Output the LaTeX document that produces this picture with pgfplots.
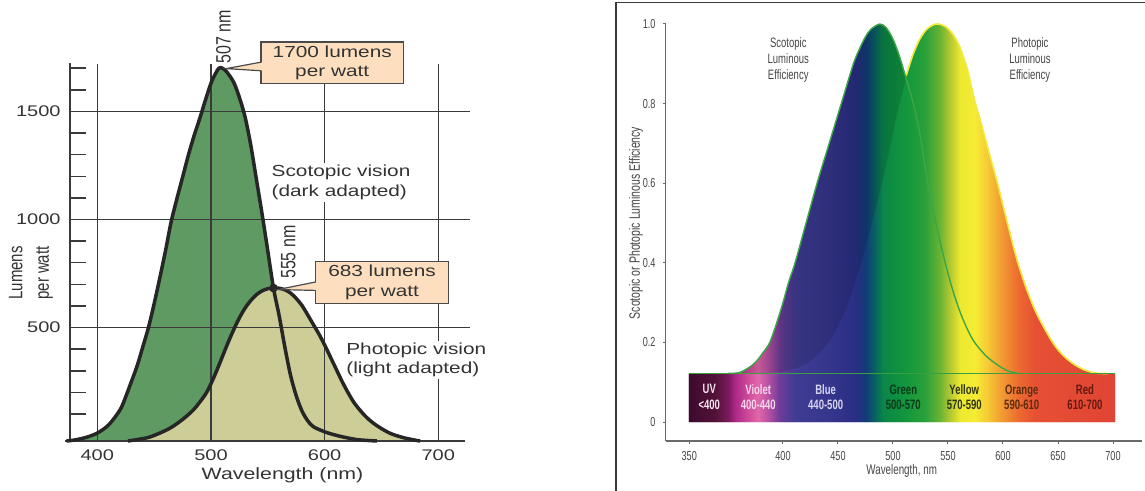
\documentclass[border=0pt]{standalone}
\usepackage{pgfplots}
\pgfplotsset{compat=1.18}
\usepackage{pgfplotstable}
\usepackage{fontspec}
\setmainfont{Liberation Sans}
\newfontfamily\widesans[FakeStretch=1.3]{Liberation Sans}
\newfontfamily\condsans[FakeStretch=0.7]{Liberation Sans}

% left panel colours
\definecolor{scofill}{HTML}{5F9A62}
\definecolor{phofill}{HTML}{CDCD98}
\definecolor{outline}{HTML}{262626}
\definecolor{gridc}{HTML}{3A3A3A}
\definecolor{boxfill}{HTML}{FDDFBF}
\definecolor{boxedge}{HTML}{4A4A4A}
\definecolor{txt}{HTML}{333333}
% right panel colours
\definecolor{axgray}{HTML}{6A6A6A}
\definecolor{labgray}{HTML}{454545}
\definecolor{framec}{HTML}{3A3A3A}
\definecolor{scoline}{HTML}{3DA646}
\definecolor{pholine}{HTML}{F2EA3C}
\definecolor{barline}{HTML}{3A9E42}
% visible spectrum
\definecolor{sp0}{HTML}{3E0A2E}
\definecolor{sp1}{HTML}{521238}
\definecolor{sp2}{HTML}{7A1A5A}
\definecolor{sp3}{HTML}{B02A8A}
\definecolor{sp4}{HTML}{D4509C}
\definecolor{sp5}{HTML}{E068AA}
\definecolor{sp6}{HTML}{B850A4}
\definecolor{sp7}{HTML}{6E3C98}
\definecolor{sp8}{HTML}{403C94}
\definecolor{sp9}{HTML}{35358C}
\definecolor{sp10}{HTML}{2A2E84}
\definecolor{sp11}{HTML}{113C78}
\definecolor{sp12}{HTML}{0A5A68}
\definecolor{sp13}{HTML}{0A8648}
\definecolor{sp14}{HTML}{12963C}
\definecolor{sp15}{HTML}{2AA03A}
\definecolor{sp16}{HTML}{6AB434}
\definecolor{sp17}{HTML}{B4C830}
\definecolor{sp18}{HTML}{ECE830}
\definecolor{sp19}{HTML}{F6EC34}
\definecolor{sp20}{HTML}{F6C834}
\definecolor{sp21}{HTML}{F2A032}
\definecolor{sp22}{HTML}{EC6C30}
\definecolor{sp23}{HTML}{E65034}
\definecolor{sp24}{HTML}{E04434}

% 314.5 nm .. 702 nm mapped onto 25bp .. 75bp
\pgfdeclarehorizontalshading{spectrum}{100bp}{%
 color(0bp)=(sp0); color(25bp)=(sp0); color(28.05bp)=(sp1); color(29.57bp)=(sp2);
 color(30.51bp)=(sp3); color(32.16bp)=(sp4); color(33.09bp)=(sp5); color(34.27bp)=(sp6);
 color(35.67bp)=(sp7); color(37.43bp)=(sp8); color(41.54bp)=(sp9); color(44.47bp)=(sp10);
 color(45.76bp)=(sp11); color(46.58bp)=(sp12); color(47.76bp)=(sp13); color(50.34bp)=(sp14);
 color(52.68bp)=(sp15); color(54.44bp)=(sp16); color(55.62bp)=(sp17); color(56.79bp)=(sp18);
 color(58.55bp)=(sp19); color(60.07bp)=(sp20); color(61.48bp)=(sp21); color(63.59bp)=(sp22);
 color(65.59bp)=(sp23); color(75bp)=(sp24); color(100bp)=(sp24)}

% lumens per watt, scotopic (dark adapted)
\pgfplotstableread{
lambda lm
373 -24.5
380 -20
390 -8
400 12
410 50
420 119
425 180
430 250
435 322
440 410
445 500
450 610
455 730
460 855
465 990
470 1095
475 1195
480 1295
485 1385
490 1465
495 1550
500 1630
504 1675
507 1700
510 1700
514 1682
520 1635
525 1565
530 1475
535 1345
540 1185
545 1025
550 855
555 683
560 555
565 410
570 280
575 185
580 115
585 70
590 42
600 18
610 2
620 -10
630 -19
646 -24.5
}\scotL

% lumens per watt, photopic (light adapted)
\pgfplotstableread{
lambda lm
427 -24.5
435 -18
445 -8
455 12
465 38
475 75
485 122
495 190
500 240
505 300
510 365
515 430
520 490
525 545
530 590
535 625
540 652
545 670
550 680
555 683
560 682
565 675
570 660
575 635
580 603
585 560
590 515
595 470
600 420
605 365
610 310
615 255
620 205
625 160
630 125
635 95
640 70
645 50
650 33
655 18
660 6
670 -10
680 -21
684 -24.5
}\photL

% relative luminous efficiency drawn above the spectrum bar
\pgfplotstableread{
lambda eff
314.5 0.122
350 0.122
360 0.124
368 0.135
375 0.150
382 0.175
388 0.200
395 0.255
400 0.300
405 0.350
411 0.400
420 0.490
431 0.600
442 0.700
453 0.800
464 0.900
470 0.940
475 0.968
480 0.987
488 1.000
494 0.990
500 0.962
506 0.918
512 0.862
519 0.795
525 0.715
531 0.612
539 0.500
547 0.405
555 0.325
563 0.262
573 0.205
585 0.165
598 0.138
606 0.127
614 0.122
702 0.122
}\scotR

\pgfplotstableread{
lambda eff
314.5 0.122
380 0.122
388 0.123
400 0.127
415 0.138
428 0.160
440 0.195
450 0.240
460 0.305
471 0.400
480 0.490
490 0.600
498 0.700
505 0.790
512 0.870
518 0.922
524 0.960
530 0.985
536 0.997
541 1.000
548 0.993
555 0.972
561 0.940
568 0.882
574 0.810
580 0.752
587 0.680
595 0.600
604 0.500
613 0.405
622 0.330
631 0.270
644 0.205
653 0.172
663 0.148
673 0.132
684 0.123
695 0.122
702 0.122
}\photR

% region seen only by the rods: scotopic rise, back along the photopic rise
\pgfplotstableread{
lambda eff
350 0.122
360 0.124
368 0.135
375 0.150
382 0.175
388 0.200
395 0.255
400 0.300
405 0.350
411 0.400
420 0.490
431 0.600
442 0.700
453 0.800
464 0.900
470 0.940
475 0.968
480 0.987
488 1.000
494 0.990
500 0.962
506 0.918
511.5 0.866
505 0.790
498 0.700
490 0.600
480 0.490
471 0.400
460 0.305
450 0.240
440 0.195
428 0.160
415 0.138
400 0.127
388 0.123
380 0.122
350 0.122
}\rodOnly

\begin{document}
\begin{tikzpicture}
\path[use as bounding box] (0,0) rectangle (572.5pt,245.5pt);

% ---------------- lumens per watt ----------------
\begin{axis}[
  at={(32.5pt,25pt)}, anchor=south west, scale only axis,
  width=202.5pt, height=189.65pt,
  xmin=371.6, xmax=727.9, ymin=-24.5, ymax=1730,
  axis line style={draw=none}, major tick length=0pt, tick style={draw=none},
  xtick={400,500,600,700}, xticklabels={400,500,600,700},
  ytick={500,1000,1500}, yticklabels={500,1000,1500},
  xticklabel style={font=\widesans\fontsize{7.7}{9}\selectfont, text=txt, anchor=north, inner sep=0pt, yshift=-4.25pt},
  yticklabel style={font=\widesans\fontsize{7.7}{9}\selectfont, text=txt, anchor=east, inner sep=0pt, xshift=-2pt},
  clip=false,
]
\addplot[draw=none, fill=scofill, smooth] table[x=lambda, y=lm] {\scotL} -- cycle;
\addplot[draw=none, fill=phofill, smooth] table[x=lambda, y=lm] {\photL} -- cycle;

% grid
\draw[gridc, line width=0.75pt]
  (376,500) -- (727.9,500) (376,1000) -- (727.9,1000) (376,1500) -- (727.9,1500)
  (400,-24.5) -- (400,1718) (500,-24.5) -- (500,1718)
  (600,-24.5) -- (600,1718) (700,-24.5) -- (700,1718);
% minor ticks on the value axis
\draw[gridc, line width=0.75pt]
  (376,100) -- (390,100) (376,200) -- (390,200) (376,300) -- (390,300)
  (376,400) -- (390,400) (376,600) -- (390,600) (376,700) -- (390,700)
  (376,800) -- (390,800) (376,900) -- (390,900) (376,1100) -- (390,1100)
  (376,1200) -- (390,1200) (376,1300) -- (390,1300) (376,1400) -- (390,1400)
  (376,1600) -- (390,1600) (376,1700) -- (390,1700);
% axis lines
\draw[gridc, line width=1pt] (371.6,-24.5) -- (723.5,-24.5);
\draw[gridc, line width=1pt] (376,-24.5) -- (376,1725);

\addplot[outline, line width=1.75pt, smooth] table[x=lambda, y=lm] {\scotL};
\addplot[outline, line width=1.75pt, smooth] table[x=lambda, y=lm] {\photL};
\fill[outline] (555,683) circle (2.2pt);

% labels on the curves
\node[font=\widesans\fontsize{8}{9.7}\selectfont, text=txt, fill=white, inner sep=1pt, align=left, anchor=west]
  at (551.3,1171) {Scotopic vision\\(dark adapted)};
\node[font=\widesans\fontsize{8}{9.7}\selectfont, text=txt, fill=white, inner sep=1pt, align=left, anchor=west]
  at (617,351) {Photopic vision\\(light adapted)};
\node[font=\fontsize{8}{9}\selectfont, text=txt, rotate=90, yscale=1.3] at (510.9,1845) {507 nm};
\node[font=\fontsize{8}{9}\selectfont, text=txt, rotate=90, yscale=1.3] at (568,849) {555 nm};

% callouts
\node[draw=boxedge, fill=boxfill, line width=0.6pt, minimum width=71.2pt, minimum height=20.85pt,
  inner sep=0pt, align=center, font=\widesans\fontsize{8}{9.7}\selectfont, text=txt]
  at (606.7,1725) {1700 lumens\\per watt};
\fill[boxfill] (546,1728) -- (513.5,1698) -- (546,1688) -- cycle;
\draw[boxedge, line width=0.6pt] (544.2,1728) -- (513.5,1698) -- (544.2,1688);
\node[draw=boxedge, fill=boxfill, line width=0.6pt, minimum width=66.3pt, minimum height=21.15pt,
  inner sep=0pt, align=center, font=\widesans\fontsize{8}{9.7}\selectfont, text=txt]
  at (650.5,708.5) {683 lumens\\per watt};
\fill[boxfill] (594,711) -- (559,676) -- (594,672) -- cycle;
\draw[boxedge, line width=0.6pt] (592.1,711) -- (559,676) -- (592.1,672);
\end{axis}

\node[font=\widesans\fontsize{8.2}{9}\selectfont, text=txt] at (141.25pt,8pt) {Wavelength (nm)};
\node[font=\fontsize{7.5}{10.2}\selectfont, text=txt, rotate=90, yscale=1.3, align=center] at (15.5pt,109pt) {Lumens\\per watt};

% ---------------- relative luminous efficiency ----------------
\begin{axis}[
  at={(332.85pt,25pt)}, anchor=south west, scale only axis,
  width=238pt, height=209pt,
  xmin=293.4, xmax=726.1, ymin=-0.0477, ymax=1.0025,
  axis x line=bottom, axis y line=left,
  axis line style={-, draw=axgray, line width=0.6pt},
  xtick={314.8,400,450,500,550,600,650,700},
  xticklabels={350,400,450,500,550,600,650,700},
  ytick={0,0.2,0.4,0.6,0.8,1}, yticklabels={0,0.2,0.4,0.6,0.8,1.0},
  tick align=outside, major tick length=1.6pt, tick style={axgray, line width=0.5pt},
  ticklabel style={font=\condsans\fontsize{6.5}{7}\selectfont, text=labgray},
  clip=false,
]
\addplot[draw=none, shade, shading=spectrum, smooth] table[x=lambda, y=eff] {\scotR} -- (702,0) -- (314.5,0) -- cycle;
\addplot[draw=none, shade, shading=spectrum, smooth] table[x=lambda, y=eff] {\photR} -- (702,0) -- (314.5,0) -- cycle;
\addplot[draw=none, fill=black, fill opacity=0.12, smooth] table[x=lambda, y=eff] {\rodOnly} -- cycle;

\addplot[pholine, line width=0.8pt, smooth] table[x=lambda, y=eff, restrict x to domain=508:700] {\photR};
\addplot[scoline, line width=0.7pt, smooth] table[x=lambda, y=eff, restrict x to domain=345:620] {\scotR};
\draw[barline, line width=0.9pt] (314.5,0.122) -- (702,0.122);

\node[font=\condsans\bfseries\fontsize{6.8}{7.85}\selectfont, align=center, text={rgb,255:red,246;green,228;blue,238}] at (333,0.0623) {UV\\<400};
\node[font=\condsans\bfseries\fontsize{6.8}{7.85}\selectfont, align=center, text={rgb,255:red,248;green,216;blue,236}] at (377.5,0.0623) {Violet\\400-440};
\node[font=\condsans\bfseries\fontsize{6.8}{7.85}\selectfont, align=center, text={rgb,255:red,214;green,214;blue,244}] at (438.8,0.0623) {Blue\\440-500};
\node[font=\condsans\bfseries\fontsize{6.8}{7.85}\selectfont, align=center, text={rgb,255:red,8;green,56;blue,26}] at (509.4,0.0623) {Green\\500-570};
\node[font=\condsans\bfseries\fontsize{6.8}{7.85}\selectfont, align=center, text={rgb,255:red,46;green,52;blue,16}] at (564.8,0.0623) {Yellow\\570-590};
\node[font=\condsans\bfseries\fontsize{6.8}{7.85}\selectfont, align=center, text={rgb,255:red,92;green,44;blue,12}] at (617,0.0623) {Orange\\590-610};
\node[font=\condsans\bfseries\fontsize{6.8}{7.85}\selectfont, align=center, text={rgb,255:red,100;green,24;blue,16}] at (674.5,0.0623) {Red\\610-700};

\node[font=\condsans\fontsize{6.8}{7.85}\selectfont, align=center, text=labgray] at (404.8,0.9095) {Scotopic\\Luminous\\Efficiency};
\node[font=\condsans\fontsize{6.8}{7.85}\selectfont, align=center, text=labgray] at (624.5,0.9095) {Photopic\\Luminous\\Efficiency};
\end{axis}

\node[font=\condsans\fontsize{7.5}{8}\selectfont, text=labgray, rotate=90] at (318pt,134pt) {Scotopic or Photopic Luminous Efficiency};
\node[font=\condsans\fontsize{7}{8}\selectfont, text=labgray] at (450.85pt,10pt) {Wavelength, nm};
\draw[framec, line width=0.9pt] (307.85pt,0pt) -- (307.85pt,244.25pt) -- (572.5pt,244.25pt);
\end{tikzpicture}
\end{document}
